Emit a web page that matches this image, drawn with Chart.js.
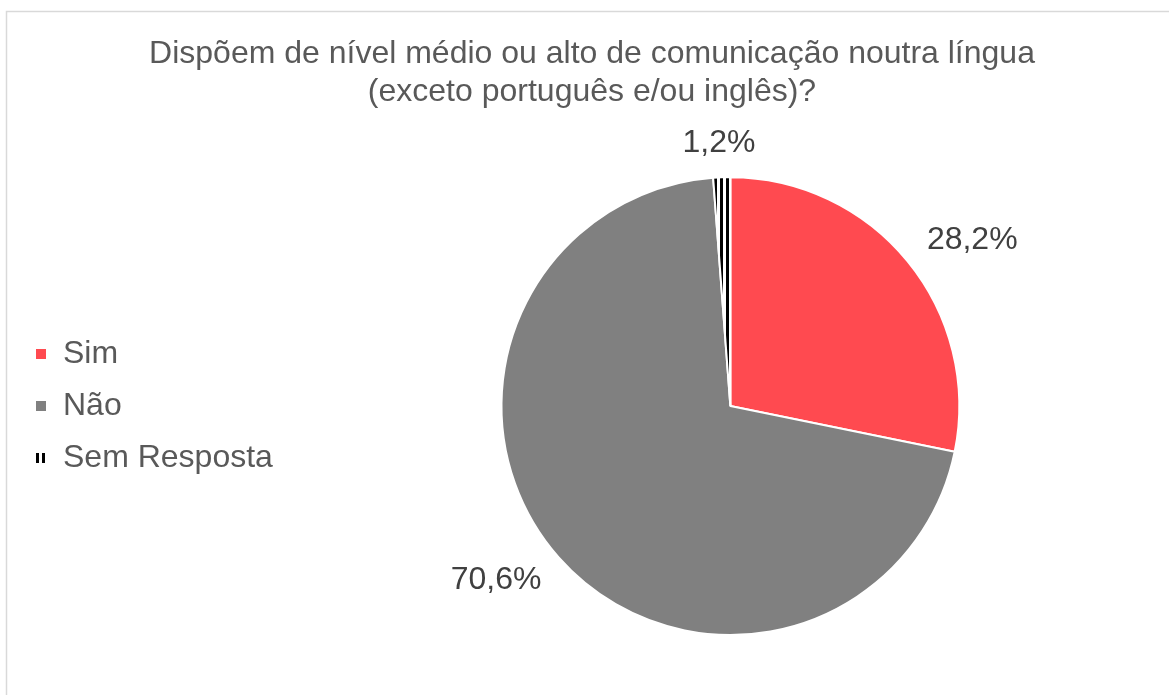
<!DOCTYPE html>
<html>
<head>
<meta charset="utf-8">
<script src="https://cdn.jsdelivr.net/npm/chart.js@4/dist/chart.umd.min.js"></script>
<style>
  html, body { margin: 0; padding: 0; background: #fff; }
  #wrap { width: 1169px; height: 695px; position: relative; }
</style>
</head>
<body>
<div id="wrap"><canvas id="chart"></canvas></div>
<script>
const categories = ['Sim', 'Não', 'Sem Resposta'];
const percentages = [28.2, 70.6, 1.2];
const titleLines = ['Dispõem de nível médio ou alto de comunicação noutra língua', '(exceto português e/ou inglês)?'];

const FONT = "'Liberation Sans', Arial, sans-serif";

// vertical black/white stripes for "Sem Resposta"
function stripePattern() {
  const c = document.createElement('canvas');
  c.width = 6; c.height = 4;
  const g = c.getContext('2d');
  g.fillStyle = '#fff';
  g.fillRect(0, 0, 6, 4);
  g.fillStyle = '#000';
  g.fillRect(0, 0, 3, 4);
  return g.createPattern(c, 'repeat');
}

const colors = ['#FF4A50', '#808080', stripePattern()];

// outer border of the chart box
const frame = {
  id: 'frame',
  beforeDraw(chart) {
    const ctx = chart.ctx;
    ctx.save();
    ctx.strokeStyle = '#d9d9d9';
    ctx.lineWidth = 1.5;
    ctx.beginPath();
    ctx.moveTo(6.5, 700);
    ctx.lineTo(6.5, 11.5);
    ctx.lineTo(1175, 11.5);
    ctx.stroke();
    ctx.restore();
  }
};

// percentage labels outside the slices
const outLabels = {
  id: 'outLabels',
  afterDatasetsDraw(chart) {
    const ctx = chart.ctx;
    const meta = chart.getDatasetMeta(0);
    ctx.save();
    ctx.font = '32px ' + FONT;
    ctx.fillStyle = '#404040';
    ctx.textAlign = 'center';
    ctx.textBaseline = 'middle';
    meta.data.forEach((arc, i) => {
      const p = arc.getProps(['x', 'y', 'startAngle', 'endAngle', 'outerRadius']);
      const mid = (p.startAngle + p.endAngle) / 2;
      const dx = Math.cos(mid), dy = Math.sin(mid);
      const txt = percentages[i].toFixed(1).replace('.', ',') + '%';
      const w = ctx.measureText(txt).width;
      const x = p.x + dx * (p.outerRadius + 38) + dx * w / 2;
      const y = p.y + dy * (p.outerRadius + 24) + dy * 10;
      ctx.fillText(txt, x, y);
    });
    ctx.restore();
  }
};

const baseLabels = Chart.overrides.pie.plugins.legend.labels.generateLabels;

new Chart(document.getElementById('chart'), {
  type: 'pie',
  data: {
    labels: categories,
    datasets: [{
      data: percentages,
      backgroundColor: colors,
      borderColor: '#ffffff',
      borderWidth: 2
    }]
  },
  options: {
    responsive: true,
    maintainAspectRatio: false,
    animation: false,
    layout: { padding: { top: 0, bottom: 59, left: 15, right: 0 } },
    plugins: {
      title: {
        display: true,
        text: titleLines,
        color: '#595959',
        font: { family: FONT, size: 32, weight: 'normal', lineHeight: 1.19 },
        padding: { top: 35, bottom: 65 }
      },
      legend: {
        position: 'left',
        align: 'center',
        fullSize: false,
        labels: {
          color: '#595959',
          font: { family: FONT, size: 32 },
          boxWidth: 12,
          boxHeight: 12,
          padding: 20,
          // a trailing space widens the legend column so the pie sits right
          generateLabels: (chart) => baseLabels(chart).map(l => ({ ...l, text: l.text + '\u00a0' }))
        }
      },
      tooltip: { enabled: false }
    }
  },
  plugins: [frame, outLabels]
});
</script>
</body>
</html>
